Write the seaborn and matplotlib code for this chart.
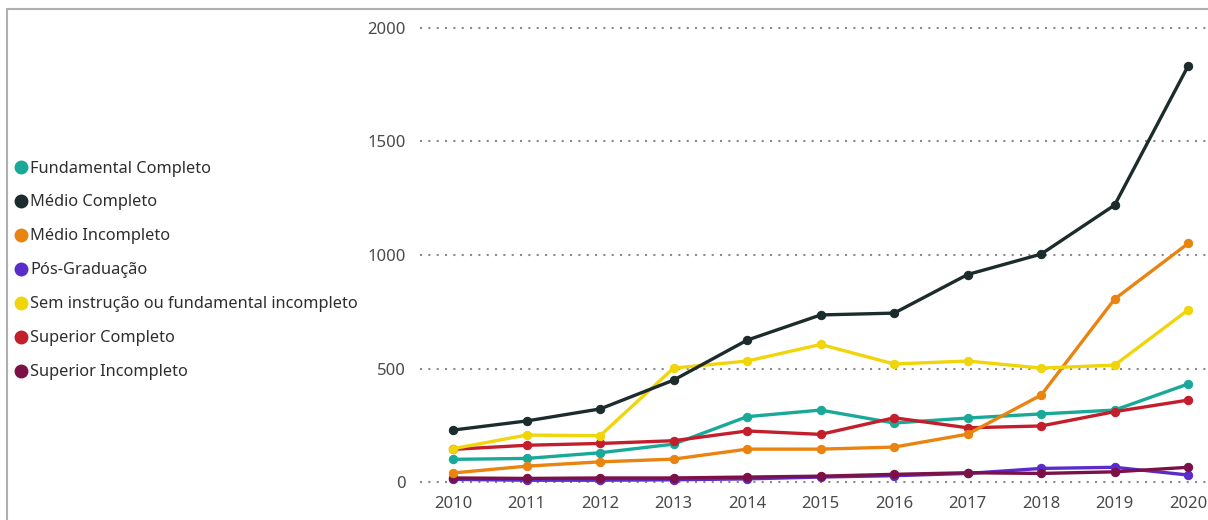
import matplotlib
matplotlib.use("Agg")
import matplotlib.pyplot as plt
from matplotlib.lines import Line2D
import pandas as pd
import seaborn as sns

years = list(range(2010, 2021))

categories = [
    "Fundamental Completo",
    "Médio Completo",
    "Médio Incompleto",
    "Pós-Graduação",
    "Sem instrução ou fundamental incompleto",
    "Superior Completo",
    "Superior Incompleto",
]

fundamental_completo = [100, 104, 129, 167, 288, 317, 260, 282, 300, 317, 432]
medio_completo = [229, 269, 322, 449, 625, 736, 744, 914, 1004, 1220, 1833]
medio_incompleto = [40, 70, 89, 101, 145, 145, 154, 211, 383, 806, 1051]
pos_graduacao = [12, 8, 8, 10, 14, 22, 28, 38, 60, 65, 31]
sem_instrucao = [147, 207, 204, 502, 533, 606, 520, 533, 502, 515, 758]
superior_completo = [144, 162, 170, 182, 225, 210, 283, 239, 247, 310, 361]
superior_incompleto = [18, 16, 18, 18, 22, 26, 34, 41, 38, 45, 65]

series = [
    fundamental_completo,
    medio_completo,
    medio_incompleto,
    pos_graduacao,
    sem_instrucao,
    superior_completo,
    superior_incompleto,
]

colors = ["#1aa999", "#1c2b2b", "#e8840f", "#5a2ccc", "#f0d50a", "#c41d2b", "#7b1147"]
palette = dict(zip(categories, colors))

# draw order: low series first so the big lines sit on top
draw_order = [3, 6, 0, 5, 2, 4, 1]

rows = []
for cat, vals in zip(categories, series):
    for yr, v in zip(years, vals):
        rows.append({"ano": yr, "valor": v, "escolaridade": cat})
df = pd.DataFrame(rows)

sns.set_style("white")
plt.rcParams["font.family"] = ["Noto Sans", "DejaVu Sans"]

fig = plt.figure(figsize=(12.08, 5.2), dpi=100)
ax = fig.add_axes([420 / 1208, 1 - 490 / 520, 788 / 1208, 470 / 520])

for i in draw_order:
    cat = categories[i]
    sns.lineplot(
        data=df[df["escolaridade"] == cat],
        x="ano",
        y="valor",
        color=palette[cat],
        marker="o",
        markersize=6,
        markeredgecolor=palette[cat],
        linewidth=2.4,
        legend=False,
        ax=ax,
        zorder=3,
    )

ax.set_xlim(2009.55, 2020.27)
ax.set_ylim(-35, 2035)
ax.set_xticks(years)
ax.set_yticks([0, 500, 1000, 1500, 2000])
ax.set_xlabel("")
ax.set_ylabel("")
ax.tick_params(axis="both", length=0, labelsize=12, colors="#4a4a4a")
ax.tick_params(axis="y", pad=10)
ax.tick_params(axis="x", pad=4)
for s in ax.spines.values():
    s.set_visible(False)
ax.yaxis.grid(True, color="#8a8a8a", linestyle=(0, (1, 3)), linewidth=1.5)
ax.xaxis.grid(False)
ax.set_axisbelow(True)

handles = [
    Line2D([0], [0], marker="o", linestyle="", markersize=9,
           markerfacecolor=c, markeredgecolor=c)
    for c in colors
]
fig.legend(
    handles,
    categories,
    loc="upper left",
    bbox_to_anchor=(10 / 1208, 1 - 154 / 520),
    frameon=False,
    fontsize=11.75,
    labelcolor="#2e2e2e",
    handlelength=0.6,
    handletextpad=0.25,
    labelspacing=1.1,
    borderaxespad=0,
)

# card border (top and left edges)
fig.add_artist(Line2D([7 / 1208, 7 / 1208], [0, 1 - 9 / 520], color="#b0b0b0", linewidth=1.5))
fig.add_artist(Line2D([7 / 1208, 1], [1 - 9 / 520, 1 - 9 / 520], color="#b0b0b0", linewidth=1.5))

fig.savefig("out.png", dpi=100)
